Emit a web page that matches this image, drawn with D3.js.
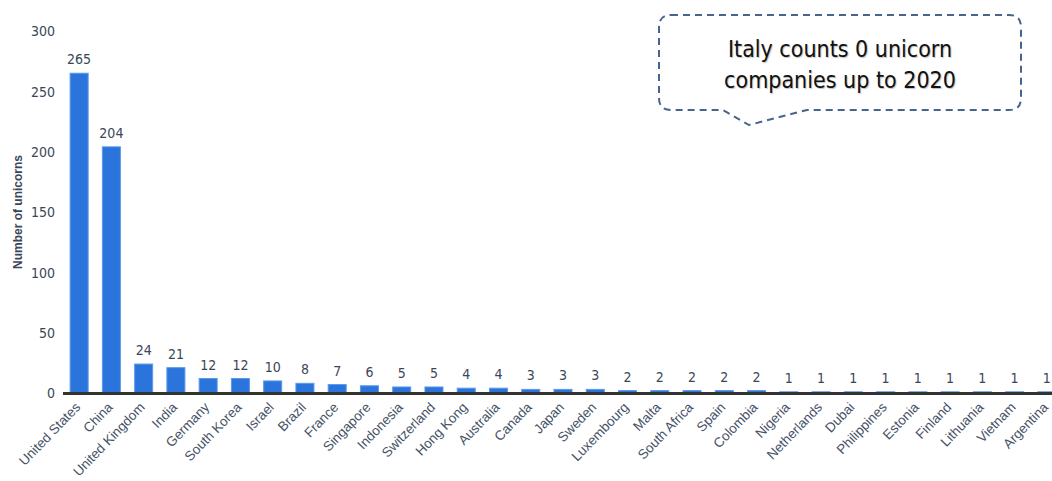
<!DOCTYPE html>
<html><head><meta charset="utf-8">
<script src="https://cdn.jsdelivr.net/npm/d3@7"></script>
<style>body{margin:0;background:#fff}svg{display:block}</style>
</head><body>
<svg id="c" width="1052" height="481"></svg>
<script>
const countries = ["United States","China","United Kingdom","India","Germany","South Korea","Israel","Brazil","France","Singapore","Indonesia","Switzerland","Hong Kong","Australia","Canada","Japan","Sweden","Luxembourg","Malta","South Africa","Spain","Colombia","Nigeria","Netherlands","Dubai","Philippines","Estonia","Finland","Lithuania","Vietnam","Argentina"];
const unicorns = [265,204,24,21,12,12,10,8,7,6,5,5,4,4,3,3,3,2,2,2,2,2,1,1,1,1,1,1,1,1,1];
const yTicks = [0,50,100,150,200,250,300];
const yTitle = "Number of unicorns";
const calloutLines = ["Italy counts 0 unicorn","companies up to 2020"];

const svg = d3.select("#c");
const narrow = "'DejaVu Sans Condensed','Liberation Sans',sans-serif";
const txtCol = "#3b4658";

const x = d3.scaleBand().domain(countries).range([63,1063]).paddingInner(0.41).paddingOuter(0.205);
const y = d3.scaleLinear().domain([0,300]).range([393,31]);

// y axis labels
const ya = svg.append("g").attr("transform","translate(55,0)")
  .call(d3.axisLeft(y).tickValues(yTicks).tickSize(0).tickPadding(0));
ya.select(".domain").remove();
ya.selectAll("text").attr("font-family",narrow).attr("font-size",14).attr("fill",txtCol).attr("dy","0.35em");

svg.append("text").attr("transform","translate(22,212) rotate(-90)")
  .attr("text-anchor","middle").attr("font-family","Liberation Sans, Arial, sans-serif")
  .attr("font-weight","bold").attr("font-size",12).attr("fill",txtCol).text(yTitle);

// bars
svg.append("g").selectAll("rect").data(countries).join("rect")
  .attr("x",d=>x(d)+0.5).attr("width",x.bandwidth()-1)
  .attr("y",(d,i)=>y(unicorns[i])).attr("height",(d,i)=>y(0)-y(unicorns[i]))
  .attr("fill","#2a74dc").attr("stroke","#5b9aea").attr("stroke-width",1);

// value labels
svg.append("g").selectAll("text").data(countries).join("text")
  .attr("x",d=>x(d)+x.bandwidth()/2).attr("y",(d,i)=>y(unicorns[i])-9)
  .attr("text-anchor","middle").attr("font-family",narrow).attr("font-size",14)
  .attr("fill",txtCol).text((d,i)=>unicorns[i]);

// x axis
const xa = svg.append("g").attr("transform","translate(0,393)")
  .call(d3.axisBottom(x).tickSize(0).tickPadding(0));
xa.select(".domain").remove();
svg.append("line").attr("x1",63).attr("x2",1052).attr("y1",393.5).attr("y2",393.5)
  .attr("stroke","#333").attr("stroke-width",3);
xa.selectAll("text").attr("font-family","Liberation Sans, Arial, sans-serif").attr("font-size",13.5)
  .attr("fill","#465266").attr("text-anchor","end").attr("dy",0)
  .attr("transform","translate(2,15) rotate(-46)");

// callout
const L=659,R=1021,T=15,B=110,r=12;
const path = `M${L+r},${T} H${R-r} Q${R},${T} ${R},${T+r} V${B-r} Q${R},${B} ${R-r},${B} H807 L749,125 L723,${B} H${L+r} Q${L},${B} ${L},${B-r} V${T+r} Q${L},${T} ${L+r},${T} Z`;
svg.append("path").attr("d",path).attr("fill","#fff").attr("stroke","#46648f")
  .attr("stroke-width",2).attr("stroke-dasharray","7,5");
const ct = svg.append("g");
calloutLines.forEach((s,i)=>{
  ct.append("text").attr("x",840).attr("y",57+i*31).attr("text-anchor","middle")
    .attr("font-family","'DejaVu Sans Condensed','DejaVu Sans',sans-serif").attr("font-size",23)
    .attr("fill","#111").attr("style","text-shadow:1px 1px 1px rgba(0,0,0,0.25)").text(s);
});
</script>
</body></html>
